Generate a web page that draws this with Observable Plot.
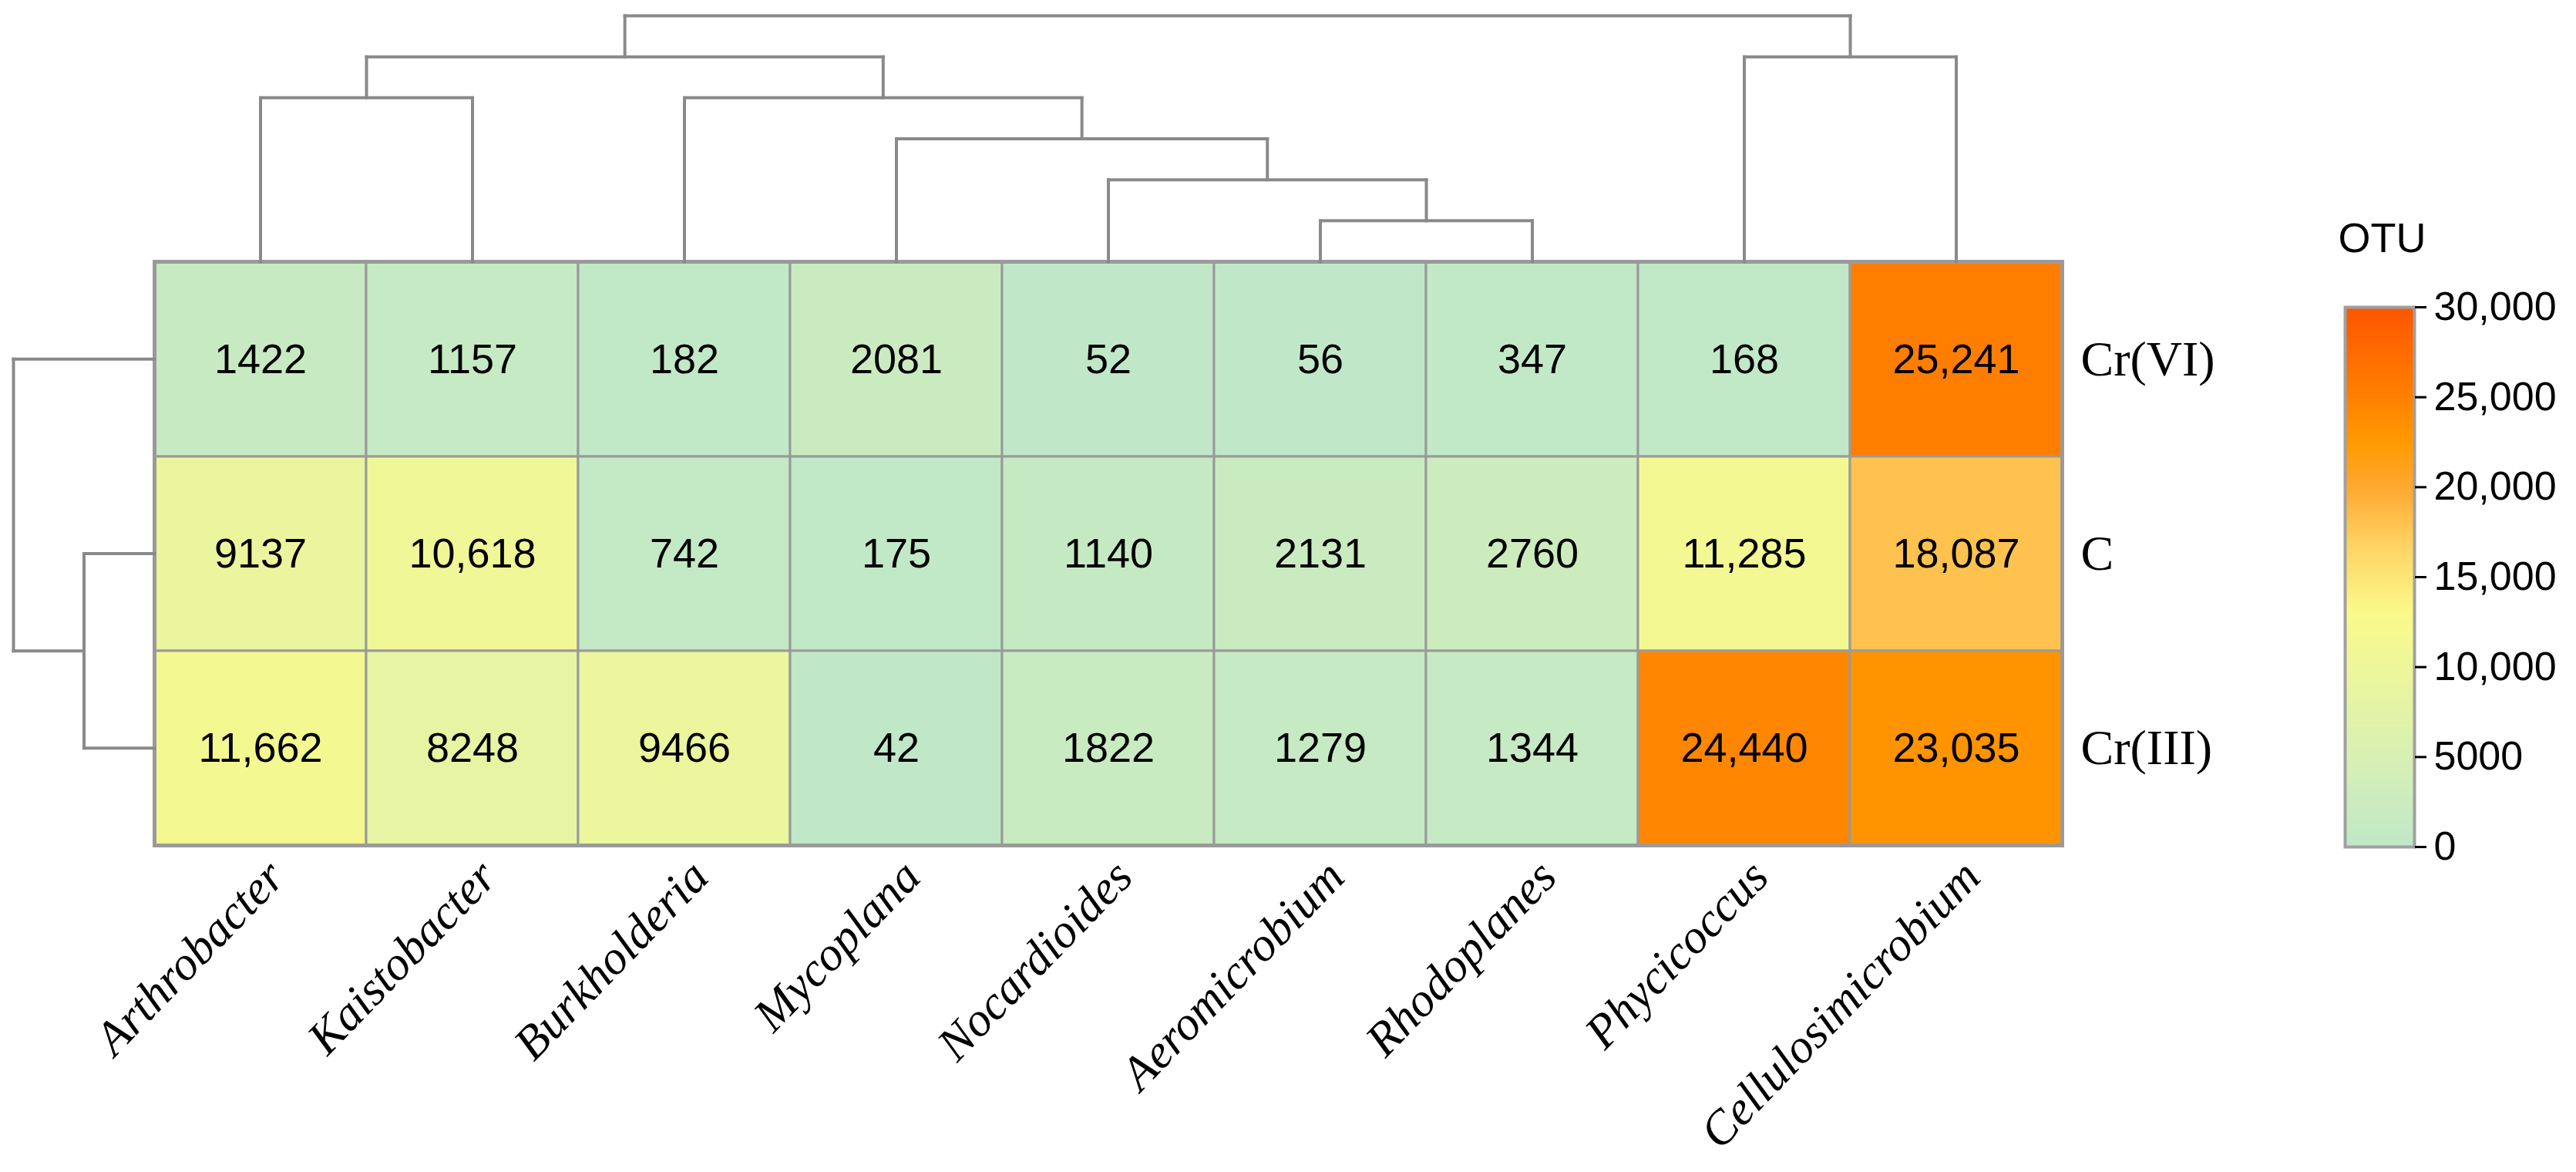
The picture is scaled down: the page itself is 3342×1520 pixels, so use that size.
<!DOCTYPE html>
<html>
<head>
<meta charset="utf-8">
<script src="https://cdn.jsdelivr.net/npm/d3@7"></script>
<script src="https://cdn.jsdelivr.net/npm/@observablehq/plot@0.6"></script>
<style>
  html, body { margin: 0; padding: 0; background: white; }
  #wrap { position: relative; width: 3342px; height: 1520px; }
  #wrap > svg { position: absolute; left: 0; top: 0; }
</style>
</head>
<body>
<div id="wrap"></div>
<script>
// ---------------- data ----------------
const genera = ["Arthrobacter", "Kaistobacter", "Burkholderia", "Mycoplana", "Nocardioides",
                "Aeromicrobium", "Rhodoplanes", "Phycicoccus", "Cellulosimicrobium"];
const treatments = ["Cr(VI)", "C", "Cr(III)"];
const crVI    = [1422, 1157, 182, 2081, 52, 56, 347, 168, 25241];
const control = [9137, 10618, 742, 175, 1140, 2131, 2760, 11285, 18087];
const crIII   = [11662, 8248, 9466, 42, 1822, 1279, 1344, 24440, 23035];
const legendTicks = [0, 5000, 10000, 15000, 20000, 25000, 30000];
const legendTitle = "OTU";

// column clustering (merge heights as dendrogram levels)
const colMerges = [
  {id: "n1", a: "Aeromicrobium", b: "Rhodoplanes", h: 1},
  {id: "n2", a: "Nocardioides", b: "n1", h: 2},
  {id: "n3", a: "Mycoplana", b: "n2", h: 3},
  {id: "n4", a: "Burkholderia", b: "n3", h: 4},
  {id: "n5", a: "Arthrobacter", b: "Kaistobacter", h: 4},
  {id: "n6", a: "Phycicoccus", b: "Cellulosimicrobium", h: 5},
  {id: "n7", a: "n5", b: "n4", h: 5},
  {id: "n8", a: "n7", b: "n6", h: 6}
];
// row clustering
const rowMerges = [
  {id: "r1", a: "C", b: "Cr(III)", h: 1},
  {id: "r2", a: "Cr(VI)", b: "r1", h: 2}
];

// ---------------- helpers ----------------
const series = [crVI, control, crIII];
const cells = [];
treatments.forEach((t, r) => genera.forEach((g, i) => cells.push({treatment: t, genus: g, value: series[r][i]})));
const fmt = v => v >= 10000 ? d3.format(",")(v) : String(v);

function treeSegments(merges, leaves) {
  const pos = new Map(leaves.map((k, i) => [k, {p: i, h: 0}]));
  const segs = [];
  for (const m of merges) {
    const A = pos.get(m.a), B = pos.get(m.b);
    segs.push({p1: A.p, h1: A.h, p2: A.p, h2: m.h});
    segs.push({p1: B.p, h1: B.h, p2: B.p, h2: m.h});
    segs.push({p1: A.p, h1: m.h, p2: B.p, h2: m.h});
    pos.set(m.id, {p: (A.p + B.p) / 2, h: m.h});
  }
  return segs;
}
const colSegs = treeSegments(colMerges, genera);
const rowSegs = treeSegments(rowMerges, treatments);

const colorScale = {
  type: "linear",
  domain: [0, 5000, 13000, 17000, 20000, 22500, 25000, 30000],
  range: ["#c0e8c8", "#d8f0b4", "#fafa8a", "#ffd060", "#ffa830", "#ff9a00", "#ff8000", "#ff5500"],
  interpolate: "rgb"
};

const W = 3342, H = 1520;
const L = 200, R = 667, T = 339, B = 424;
const lineColor = "#8a8a8a";
const wrap = document.getElementById("wrap");

// ---------------- heatmap ----------------
const main = Plot.plot({
  width: W, height: H,
  marginLeft: L, marginRight: R, marginTop: T, marginBottom: B,
  x: {domain: genera, padding: 0, label: null},
  y: {domain: treatments, padding: 0, label: null},
  color: colorScale,
  style: {background: "white"},
  marks: [
    Plot.cell(cells, {x: "genus", y: "treatment", fill: "value", stroke: "#9a9a9a", strokeWidth: 3, inset: 0}),
    Plot.text(cells, {x: "genus", y: "treatment", text: d => fmt(d.value), fontSize: 54,
                      fontFamily: "Liberation Sans, Arial, sans-serif", fill: "black"}),
    Plot.frame({stroke: "#9a9a9a", strokeWidth: 5}),
    Plot.axisX({anchor: "bottom", tickSize: 0, tickRotate: -46, tickPadding: 30, dx: 20,
                fontSize: 62, fontFamily: "Liberation Serif, serif", fontStyle: "italic", label: null}),
    Plot.axisY({anchor: "right", tickSize: 0, tickPadding: 24, fontSize: 64,
                fontFamily: "Liberation Serif, serif", label: null})
  ]
});
wrap.appendChild(main);

// ---------------- column dendrogram ----------------
const colDendro = Plot.plot({
  width: W, height: H,
  marginLeft: L, marginRight: R, marginTop: 20, marginBottom: H - T,
  x: {domain: [-0.5, genera.length - 0.5], axis: null},
  y: {domain: [0, 6], axis: null},
  style: {background: "transparent"},
  marks: [
    Plot.link(colSegs, {x1: "p1", y1: "h1", x2: "p2", y2: "h2", stroke: lineColor, strokeWidth: 4, strokeLinecap: "square"})
  ]
});
wrap.appendChild(colDendro);

// ---------------- row dendrogram ----------------
const rowDendro = Plot.plot({
  width: W, height: H,
  marginLeft: 17, marginRight: W - L, marginTop: T, marginBottom: B,
  x: {domain: [0, 2], reverse: true, axis: null},
  y: {domain: [-0.5, treatments.length - 0.5], reverse: true, axis: null},
  style: {background: "transparent"},
  marks: [
    Plot.link(rowSegs, {x1: "h1", y1: "p1", x2: "h2", y2: "p2", stroke: lineColor, strokeWidth: 4, strokeLinecap: "square"})
  ]
});
wrap.appendChild(rowDendro);

// ---------------- colour legend ----------------
const step = 50;
const stripes = d3.range(0, 30000, step);
const legend = Plot.plot({
  width: W, height: H,
  marginLeft: 3042, marginRight: W - 3132, marginTop: 398, marginBottom: H - 1098,
  x: {domain: [0, 1], axis: null},
  y: {domain: [0, 30000], axis: null},
  color: colorScale,
  style: {background: "transparent"},
  marks: [
    Plot.rect(stripes, {x1: 0, x2: 1, y1: d => d, y2: d => d + step, fill: d => d + step / 2, shapeRendering: "crispEdges"}),
    Plot.frame({stroke: "#a0a0a0", strokeWidth: 4}),
    Plot.axisY(legendTicks, {anchor: "right", tickSize: 15, tickPadding: 10, strokeWidth: 3, stroke: "black",
                             tickFormat: fmt, fontSize: 52, fontFamily: "Liberation Sans, Arial, sans-serif", label: null}),
    Plot.text([legendTitle], {frameAnchor: "top-left", textAnchor: "start", lineAnchor: "bottom", dx: -9, dy: -72,
                              fontSize: 54, fontFamily: "Liberation Sans, Arial, sans-serif", fill: "black"})
  ]
});
wrap.appendChild(legend);
</script>
</body>
</html>
